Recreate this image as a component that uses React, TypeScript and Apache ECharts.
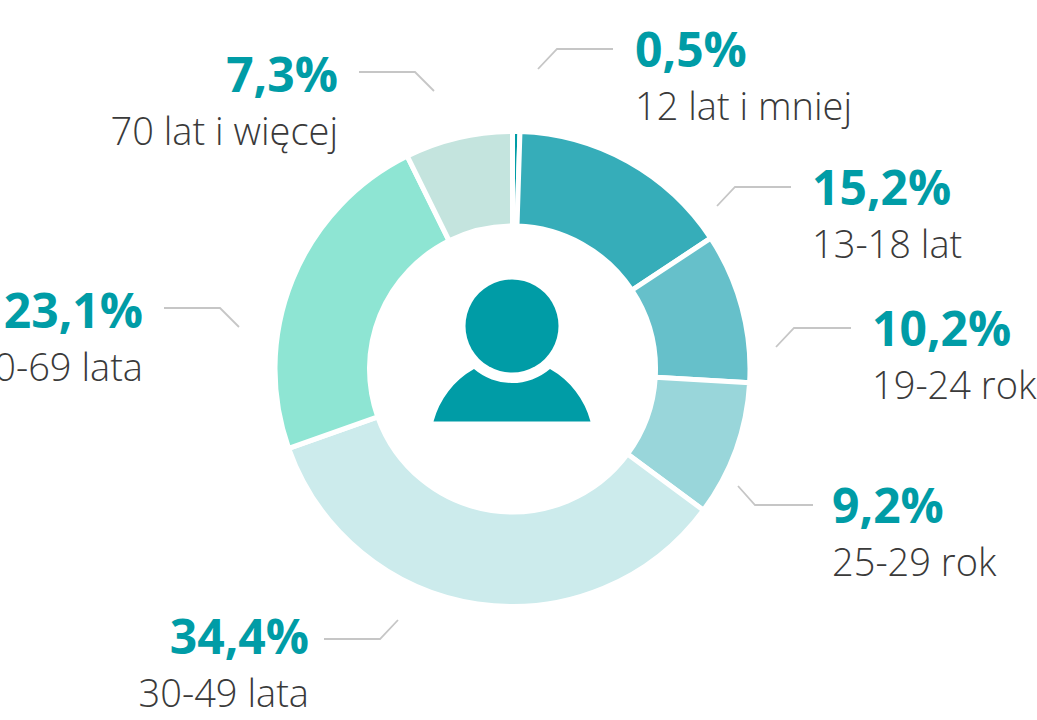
import React, { useEffect, useRef } from "react";
import * as echarts from "echarts";

const categories = ["12 lat i mniej", "13-18 lat", "19-24 rok", "25-29 rok", "30-49 lata", "50-69 lata", "70 lat i więcej"];
const values = [0.5, 15.2, 10.2, 9.2, 34.4, 23.1, 7.3];
const colors = ["#009CA6", "#36ADB9", "#66C0CA", "#99D6DA", "#CCEBEC", "#8EE5D3", "#C4E4DE"];
const labelAnchors: { x: number; y: number; align: string; line: number[][] }[] = [
  { x: 635, y: 49, align: "left", line: [[538, 69], [557, 49], [613, 49]] },
  { x: 812, y: 187, align: "left", line: [[717, 206], [735, 187], [791, 187]] },
  { x: 872, y: 328, align: "left", line: [[776, 347], [794, 328], [851, 328]] },
  { x: 832, y: 505, align: "left", line: [[738, 486], [755, 505], [813, 505]] },
  { x: 309, y: 636, align: "right", line: [[398, 620], [380, 639], [324, 639]] },
  { x: 143, y: 310, align: "right", line: [[239, 327], [220, 308], [164, 308]] },
  { x: 338, y: 74, align: "right", line: [[434, 91], [415, 72], [359, 72]] },
];

const personPath =
  "M433.5 421.5 A85 85 0 0 1 474 369 A58.6 58.6 0 0 0 550 369 A85 85 0 0 1 590.5 421.5 Z";

export default function App() {
  const ref = useRef<HTMLDivElement>(null);
  useEffect(() => {
    echarts.graphic.registerShape("personBody", echarts.graphic.extendPath(personPath as any, {}) as any);
    const chart = echarts.init(ref.current!, null, { renderer: "svg" });
    chart.setOption({
      animation: false,
      backgroundColor: "#ffffff",
      graphic: [
        { type: "circle", shape: { cx: 512, cy: 326, r: 46.5 }, style: { fill: "#009CA6" }, z: 10 },
        { type: "personBody", style: { fill: "#009CA6" }, z: 10 },
      ],
      series: [
        {
          type: "pie",
          center: [512.5, 369],
          radius: [143, 237.5],
          startAngle: 90,
          clockwise: true,
          silent: true,
          itemStyle: { borderColor: "#ffffff", borderWidth: 5 },
          data: categories.map((name, i) => ({
            name,
            value: values[i],
            itemStyle: { color: colors[i] },
          })),
          label: {
            show: true,
            formatter: (p: any) =>
              `{v|${String(p.value).replace(".", ",")}%}\n{n|${p.name}}`,
            rich: {
              v: { fontFamily: "Open Sans", fontWeight: 700, fontSize: 48, lineHeight: 56, color: "#009CA6" },
              n: { fontFamily: "Open Sans", fontWeight: 300, fontSize: 38, lineHeight: 57, color: "#3A3A3A" },
            },
          },
          labelLine: { show: true, lineStyle: { color: "#C6C6C6", width: 1.8 } },
          labelLayout: (p: any) => {
            const a = labelAnchors[p.dataIndex];
            return {
              x: a.x,
              y: a.y - 29,
              align: a.align,
              verticalAlign: "top",
              labelLinePoints: a.line,
            };
          },
        },
      ],
    });
    return () => chart.dispose();
  }, []);
  return <div ref={ref} style={{ position: "absolute", left: 0, top: 0, width: 1037, height: 720 }} />;
}
